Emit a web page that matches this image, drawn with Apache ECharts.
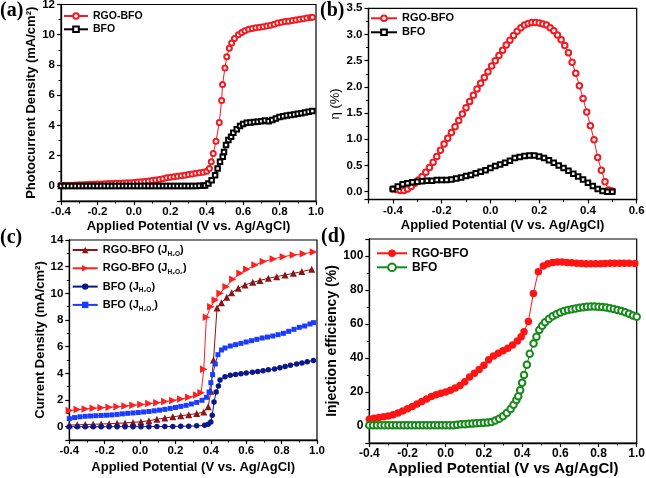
<!DOCTYPE html>
<html><head><meta charset="utf-8">
<script src="https://cdn.jsdelivr.net/npm/echarts@6/dist/echarts.min.js"></script>
<style>html,body{margin:0;padding:0;background:#fff}#c{width:646px;height:478px}</style>
</head><body><div id="c"></div>
<script>
// ---------- Panel (a): photocurrent density ----------
const aNames = ['RGO-BFO', 'BFO'];
const aRGO = [[-0.40,0.04],[-0.38,0.04],[-0.36,0.05],[-0.34,0.05],[-0.32,0.06],[-0.30,0.07],[-0.28,0.08],[-0.26,0.09],[-0.24,0.10],[-0.22,0.11],[-0.20,0.12],[-0.18,0.13],[-0.16,0.14],[-0.14,0.15],[-0.12,0.16],[-0.10,0.17],[-0.08,0.18],[-0.06,0.19],[-0.04,0.20],[-0.02,0.21],[0.00,0.23],[0.02,0.25],[0.04,0.27],[0.06,0.29],[0.08,0.32],[0.10,0.35],[0.12,0.39],[0.14,0.43],[0.16,0.48],[0.18,0.53],[0.20,0.57],[0.22,0.61],[0.24,0.64],[0.26,0.67],[0.28,0.71],[0.30,0.75],[0.32,0.79],[0.34,0.83],[0.36,0.87],[0.38,0.91],[0.40,0.97],[0.415,1.15],[0.425,1.60],[0.436,2.15],[0.451,2.95],[0.469,4.20],[0.482,5.65],[0.487,6.70],[0.500,7.80],[0.510,8.55],[0.524,9.10],[0.537,9.45],[0.552,9.75],[0.574,10.00],[0.592,10.15],[0.610,10.27],[0.630,10.36],[0.650,10.42],[0.670,10.47],[0.690,10.50],[0.710,10.53],[0.730,10.58],[0.750,10.63],[0.770,10.70],[0.790,10.78],[0.810,10.83],[0.830,10.87],[0.850,10.90],[0.870,10.94],[0.890,10.98],[0.910,11.02],[0.930,11.06],[0.950,11.10],[0.970,11.14],[0.980,11.16]];
const aBFO = [[-0.40,0],[-0.38,0],[-0.36,0],[-0.34,0],[-0.32,0],[-0.30,0],[-0.28,0],[-0.26,0],[-0.24,0],[-0.22,0],[-0.20,0],[-0.18,0],[-0.16,0],[-0.14,0],[-0.12,0],[-0.10,0],[-0.08,0],[-0.06,0],[-0.04,0],[-0.02,0],[0.00,0],[0.02,0],[0.04,0],[0.06,0],[0.08,0],[0.10,0],[0.12,0],[0.14,0],[0.16,0],[0.18,0],[0.20,0],[0.22,0],[0.24,0],[0.26,0],[0.28,0],[0.30,0],[0.32,0],[0.34,0],[0.36,0.01],[0.38,0.01],[0.391,0.03],[0.409,0.16],[0.427,0.38],[0.446,0.71],[0.460,1.15],[0.473,1.59],[0.488,1.92],[0.495,2.25],[0.506,2.70],[0.519,3.03],[0.534,3.25],[0.546,3.51],[0.565,3.75],[0.583,3.97],[0.600,4.10],[0.620,4.17],[0.640,4.20],[0.660,4.22],[0.680,4.25],[0.700,4.28],[0.720,4.32],[0.740,4.28],[0.760,4.36],[0.780,4.46],[0.800,4.55],[0.820,4.61],[0.840,4.65],[0.860,4.69],[0.880,4.73],[0.900,4.77],[0.920,4.81],[0.940,4.86],[0.960,4.91],[0.980,4.96]];

// ---------- Panel (b): efficiency eta ----------
const bNames = ['RGO-BFO', 'BFO'];
const bRGO = [[-0.400,0.05],[-0.385,0.04],[-0.370,0.02],[-0.355,0.02],[-0.340,0.05],[-0.325,0.10],[-0.310,0.16],[-0.295,0.22],[-0.280,0.29],[-0.265,0.37],[-0.250,0.46],[-0.235,0.56],[-0.220,0.67],[-0.205,0.79],[-0.190,0.91],[-0.175,1.02],[-0.160,1.13],[-0.145,1.24],[-0.130,1.36],[-0.115,1.48],[-0.100,1.60],[-0.085,1.72],[-0.070,1.84],[-0.055,1.96],[-0.040,2.07],[-0.025,2.18],[-0.010,2.29],[0.005,2.40],[0.020,2.50],[0.035,2.60],[0.050,2.70],[0.065,2.80],[0.080,2.89],[0.095,2.98],[0.110,3.06],[0.125,3.13],[0.140,3.18],[0.155,3.21],[0.170,3.23],[0.185,3.23],[0.200,3.22],[0.215,3.20],[0.230,3.18],[0.245,3.13],[0.260,3.07],[0.275,2.99],[0.290,2.90],[0.305,2.79],[0.320,2.65],[0.335,2.47],[0.350,2.26],[0.365,2.02],[0.380,1.78],[0.395,1.52],[0.410,1.26],[0.425,0.99],[0.440,0.65],[0.455,0.41],[0.470,0.19],[0.485,0.03],[0.500,0.01]];
const bBFO = [[-0.40,0.05],[-0.38,0.10],[-0.36,0.14],[-0.34,0.16],[-0.32,0.18],[-0.30,0.19],[-0.28,0.20],[-0.26,0.21],[-0.24,0.21],[-0.22,0.22],[-0.20,0.22],[-0.18,0.22],[-0.16,0.23],[-0.14,0.25],[-0.12,0.27],[-0.10,0.30],[-0.08,0.32],[-0.06,0.35],[-0.04,0.38],[-0.02,0.41],[0.00,0.45],[0.02,0.49],[0.04,0.52],[0.06,0.55],[0.08,0.59],[0.10,0.64],[0.12,0.66],[0.14,0.68],[0.16,0.69],[0.18,0.69],[0.20,0.67],[0.22,0.64],[0.24,0.60],[0.26,0.55],[0.28,0.50],[0.30,0.45],[0.32,0.40],[0.34,0.34],[0.36,0.29],[0.38,0.23],[0.40,0.17],[0.42,0.11],[0.44,0.05],[0.46,0.01],[0.48,0.00],[0.50,0.00]];

// ---------- Panel (c): current density with / without H2O2 ----------
const cNames = ['RGO-BFO (J{s|H₂O})', 'RGO-BFO (J{s|H₂O₂})', 'BFO (J{s|H₂O})', 'BFO (J{s|H₂O₂})'];
const cRgoH2O = [[-0.40,0.12],[-0.355,0.14],[-0.31,0.16],[-0.265,0.18],[-0.22,0.20],[-0.175,0.22],[-0.13,0.25],[-0.085,0.28],[-0.04,0.32],[0.005,0.37],[0.05,0.45],[0.095,0.55],[0.14,0.65],[0.185,0.74],[0.23,0.82],[0.275,0.90],[0.32,0.98],[0.36,1.10],[0.385,1.50],[0.40,2.65],[0.415,5.00],[0.435,8.90],[0.46,9.30],[0.49,9.70],[0.518,10.05],[0.555,10.38],[0.593,10.63],[0.637,10.83],[0.678,10.97],[0.725,11.13],[0.772,11.25],[0.819,11.38],[0.866,11.50],[0.914,11.63],[0.97,11.80]];
const cRgoH2O2 = [[-0.40,1.22],[-0.355,1.28],[-0.31,1.33],[-0.265,1.38],[-0.22,1.42],[-0.175,1.46],[-0.13,1.50],[-0.085,1.55],[-0.04,1.60],[0.005,1.66],[0.05,1.73],[0.095,1.80],[0.14,1.88],[0.185,1.97],[0.23,2.07],[0.275,2.20],[0.32,2.38],[0.345,2.55],[0.36,4.30],[0.375,8.20],[0.40,9.00],[0.425,9.50],[0.452,10.00],[0.486,10.50],[0.524,11.05],[0.565,11.50],[0.603,11.80],[0.65,12.13],[0.697,12.38],[0.753,12.58],[0.81,12.75],[0.866,12.88],[0.923,12.97],[0.98,13.10]];
const cBfoH2O = [[-0.40,0.00],[-0.355,0.00],[-0.31,0.00],[-0.265,0.00],[-0.22,0.00],[-0.175,0.00],[-0.13,0.00],[-0.085,0.00],[-0.04,0.00],[0.005,0.00],[0.05,0.00],[0.095,0.01],[0.14,0.01],[0.185,0.02],[0.23,0.03],[0.275,0.04],[0.32,0.06],[0.365,0.10],[0.385,0.18],[0.40,0.35],[0.408,0.85],[0.418,1.85],[0.43,2.60],[0.443,3.05],[0.452,3.50],[0.48,3.75],[0.51,3.85],[0.54,3.92],[0.57,3.97],[0.60,4.02],[0.635,4.08],[0.665,4.13],[0.695,4.20],[0.725,4.27],[0.76,4.33],[0.79,4.42],[0.82,4.52],[0.85,4.61],[0.885,4.70],[0.915,4.78],[0.945,4.86],[0.98,4.97]];
const cBfoH2O2 = [[-0.40,0.60],[-0.37,0.68],[-0.34,0.74],[-0.31,0.78],[-0.28,0.80],[-0.25,0.82],[-0.22,0.84],[-0.19,0.86],[-0.16,0.88],[-0.13,0.92],[-0.10,0.96],[-0.07,1.00],[-0.04,1.03],[-0.01,1.06],[0.02,1.10],[0.05,1.14],[0.08,1.19],[0.11,1.24],[0.14,1.30],[0.17,1.37],[0.20,1.44],[0.23,1.52],[0.26,1.60],[0.29,1.70],[0.32,1.82],[0.35,1.98],[0.375,2.20],[0.39,2.60],[0.40,3.30],[0.41,3.90],[0.425,4.70],[0.44,5.40],[0.46,5.75],[0.48,5.90],[0.51,6.05],[0.54,6.15],[0.57,6.25],[0.60,6.35],[0.63,6.45],[0.66,6.55],[0.69,6.65],[0.72,6.72],[0.75,6.80],[0.78,6.90],[0.81,7.00],[0.84,7.15],[0.87,7.30],[0.90,7.45],[0.93,7.55],[0.96,7.70],[0.98,7.80]];

// ---------- Panel (d): injection efficiency ----------
const dNames = ['RGO-BFO', 'BFO'];
const dRGO = [[-0.400,4.0],[-0.375,4.6],[-0.350,5.0],[-0.325,5.4],[-0.300,5.9],[-0.275,6.6],[-0.250,7.6],[-0.225,8.8],[-0.200,10.1],[-0.175,11.5],[-0.150,12.9],[-0.125,14.4],[-0.100,15.9],[-0.075,17.4],[-0.050,18.4],[-0.025,19.2],[0.000,20.0],[0.025,21.0],[0.050,22.3],[0.075,23.8],[0.100,26.0],[0.125,28.8],[0.150,31.0],[0.175,33.2],[0.200,35.8],[0.225,39.0],[0.250,41.2],[0.275,42.8],[0.300,44.2],[0.325,45.8],[0.350,47.7],[0.375,50.0],[0.395,52.5],[0.410,55.5],[0.433,61.5],[0.459,78.0],[0.485,90.8],[0.511,94.1],[0.535,95.5],[0.560,96.2],[0.585,96.4],[0.610,96.4],[0.635,96.2],[0.660,96.0],[0.685,95.8],[0.710,95.6],[0.735,95.5],[0.760,95.4],[0.785,95.4],[0.810,95.5],[0.835,95.6],[0.860,95.8],[0.885,95.8],[0.910,95.8],[0.935,95.8],[0.960,95.7],[0.990,95.6]];
const dBFO = [[-0.40,0.5],[-0.38,0.5],[-0.36,0.5],[-0.34,0.5],[-0.32,0.5],[-0.30,0.5],[-0.28,0.5],[-0.26,0.5],[-0.24,0.5],[-0.22,0.5],[-0.20,0.5],[-0.18,0.5],[-0.16,0.5],[-0.14,0.5],[-0.12,0.5],[-0.10,0.5],[-0.08,0.5],[-0.06,0.5],[-0.04,0.5],[-0.02,0.5],[0.00,0.5],[0.02,0.5],[0.04,0.5],[0.06,0.8],[0.08,1.0],[0.10,1.1],[0.12,1.3],[0.14,1.4],[0.16,1.6],[0.18,1.8],[0.20,1.9],[0.22,2.0],[0.24,2.4],[0.26,3.2],[0.28,4.3],[0.30,5.8],[0.32,7.6],[0.34,10.0],[0.355,12.5],[0.37,15.3],[0.38,17.5],[0.39,21.0],[0.40,25.5],[0.41,30.0],[0.425,36.0],[0.44,42.5],[0.46,48.5],[0.475,52.5],[0.49,56.5],[0.505,59.0],[0.52,61.0],[0.54,63.0],[0.56,64.5],[0.58,65.7],[0.60,66.8],[0.62,67.6],[0.64,68.2],[0.66,68.7],[0.68,69.1],[0.70,69.5],[0.72,69.8],[0.74,70.1],[0.76,70.3],[0.78,70.3],[0.80,70.2],[0.82,70.0],[0.84,69.7],[0.86,69.3],[0.88,68.8],[0.90,68.3],[0.92,67.6],[0.94,66.9],[0.96,66.0],[0.98,65.0],[1.00,64.2]];

// ---------- rendering ----------
const FONT = '"Liberation Sans", Arial, sans-serif';
const chart = echarts.init(document.getElementById('c'), null, {renderer: 'canvas'});

function fmt(step, dec) {
  return function (v) {
    const r = v / step;
    if (Math.abs(r - Math.round(r)) > 1e-6) return '';
    const val = Math.round(v * 1000) / 1000;
    return (val === 0 ? 0 : val).toFixed(dec);
  };
}
function axis(kind, gi, min, max, step, dec, fs, name, nameFs, nameGap, nameWeight) {
  return {
    type: 'value', gridIndex: gi, min: min, max: max,
    minInterval: step, maxInterval: step, splitNumber: Math.round((max - min) / step),
    axisLine: {show: true, onZero: false, lineStyle: {color: '#000', width: 1.3}},
    axisTick: {show: true, inside: false, length: 4, lineStyle: {color: '#000', width: 1.2}},
    minorTick: {show: true, splitNumber: 2, length: 2.5, lineStyle: {color: '#000', width: 1}},
    splitLine: {show: false}, minorSplitLine: {show: false},
    axisLabel: {margin: kind === 'x' ? 5 : 6, color: '#000', fontFamily: FONT, fontWeight: 'bold', fontSize: fs,
      formatter: fmt(step, dec), showMinLabel: true, showMaxLabel: true},
    name: name, nameLocation: 'middle', nameGap: nameGap,
    nameTextStyle: {color: '#000', fontFamily: FONT, fontWeight: nameWeight || 'bold', fontSize: nameFs}
  };
}
function ser(id, gi, data, symbol, size, color, empty, rot) {
  return {
    type: 'line', name: id, xAxisIndex: gi, yAxisIndex: gi, data: data,
    symbol: symbol, symbolSize: size, symbolRotate: rot || 0, showSymbol: true, showAllSymbol: true,
    lineStyle: {color: color, width: 1},
    itemStyle: empty ? {color: color, borderColor: color, borderWidth: 1.3}
                     : {color: color, borderColor: color, borderWidth: 0},
    animation: false, clip: false
  };
}
const gridBase = {show: true, borderColor: '#000', borderWidth: 1.2, backgroundColor: '#fff', containLabel: false, outerBoundsMode: 'none'};
const legBase = {orient: 'vertical', padding: 0, selectedMode: false};

const option = {
  backgroundColor: '#fff',
  animation: false,
  grid: [
    Object.assign({left: 61, top: 4.5, width: 255, height: 196.5}, gridBase),
    Object.assign({left: 368.5, top: 8.3, width: 268.2, height: 191.2}, gridBase),
    Object.assign({left: 69.3, top: 240, width: 247.7, height: 200}, gridBase),
    Object.assign({left: 369.3, top: 239, width: 267.4, height: 204}, gridBase)
  ],
  xAxis: [
    axis('x', 0, -0.4, 1.0, 0.2, 1, 11.5, 'Applied Potential (V vs. Ag/AgCl)', 13, 19),
    axis('x', 1, -0.5, 0.6, 0.2, 1, 11.5, 'Applied Potential (V vs. Ag/AgCl)', 13, 19),
    axis('x', 2, -0.4, 1.0, 0.2, 1, 11.5, 'Applied Potential (V vs. Ag/AgCl)', 13, 21),
    axis('x', 3, -0.4, 1.0, 0.2, 1, 12, 'Applied Potential (V vs Ag/AgCl)', 15, 17)
  ],
  yAxis: [
    axis('y', 0, -1, 12, 2, 0, 11.5, 'Photocurrent Density (mA/cm²)', 13, 19),
    axis('y', 1, -0.15, 3.5, 0.5, 1, 11.5, 'η (%)', 13, 27, 'normal'),
    axis('y', 2, -1, 14, 2, 0, 11.5, 'Current Density (mA/cm²)', 13, 22),
    axis('y', 3, -10, 110, 20, 0, 12, 'Injection efficiency (%)', 14, 26)
  ],
  legend: [
    Object.assign({left: 63, top: 10, itemWidth: 24, itemHeight: 7, itemGap: 1.3,
      data: ['a0', 'a1'], formatter: n => aNames[+n[1]],
      textStyle: {fontFamily: FONT, fontWeight: 'bold', fontSize: 10.5, color: '#000', lineHeight: 12}}, legBase),
    Object.assign({left: 370, top: 12.3, itemWidth: 26, itemHeight: 7, itemGap: 2,
      data: ['b0', 'b1'], formatter: n => bNames[+n[1]],
      textStyle: {fontFamily: FONT, fontWeight: 'bold', fontSize: 11, color: '#000', lineHeight: 12}}, legBase),
    Object.assign({left: 71.7, top: 242.5, itemWidth: 25, itemHeight: 8, itemGap: 3.3,
      data: ['c0', 'c1', 'c2', 'c3'], formatter: n => cNames[+n[1]],
      textStyle: {fontFamily: FONT, fontWeight: 'bold', fontSize: 11, color: '#000', lineHeight: 15,
        rich: {s: {fontFamily: FONT, fontWeight: 'bold', fontSize: 6.5, color: '#000', verticalAlign: 'bottom', lineHeight: 8}}}}, legBase),
    Object.assign({left: 376, top: 246.8, itemWidth: 30, itemHeight: 9.5, itemGap: 1,
      data: ['d0', 'd1'], formatter: n => dNames[+n[1]],
      textStyle: {fontFamily: FONT, fontWeight: 'bold', fontSize: 12, color: '#000', lineHeight: 13}}, legBase)
  ],
  series: [
    ser('a0', 0, aRGO, 'emptyCircle', 5, '#ee1d23', true),
    ser('a1', 0, aBFO, 'emptyRect', 4.5, '#000000', true),
    ser('b0', 1, bRGO, 'emptyCircle', 5.5, '#ee1d23', true),
    ser('b1', 1, bBFO, 'emptyRect', 4.5, '#000000', true),
    ser('c0', 2, cRgoH2O, 'triangle', 7, '#8b1414', false),
    ser('c1', 2, cRgoH2O2, 'triangle', 7.5, '#ff1f1f', false, -90),
    ser('c2', 2, cBfoH2O, 'circle', 5.5, '#0c1788', false),
    ser('c3', 2, cBfoH2O2, 'rect', 5, '#1a3cff', false),
    ser('d0', 3, dRGO, 'circle', 7.5, '#ff1414', false),
    ser('d1', 3, dBFO, 'emptyCircle', 6.5, '#16891a', true)
  ],
  graphic: [
    {type: 'text', left: 0, top: 1, style: {text: '(a)', fontFamily: '"Liberation Serif", serif', fontWeight: 'bold', fontSize: 20, fill: '#000'}},
    {type: 'text', left: 320, top: 1, style: {text: '(b)', fontFamily: '"Liberation Serif", serif', fontWeight: 'bold', fontSize: 20, fill: '#000'}},
    {type: 'text', left: 0, top: 228, style: {text: '(c)', fontFamily: '"Liberation Serif", serif', fontWeight: 'bold', fontSize: 20, fill: '#000'}},
    {type: 'text', left: 321, top: 227, style: {text: '(d)', fontFamily: '"Liberation Serif", serif', fontWeight: 'bold', fontSize: 20, fill: '#000'}}
  ]
};
chart.setOption(option);
</script></body></html>
